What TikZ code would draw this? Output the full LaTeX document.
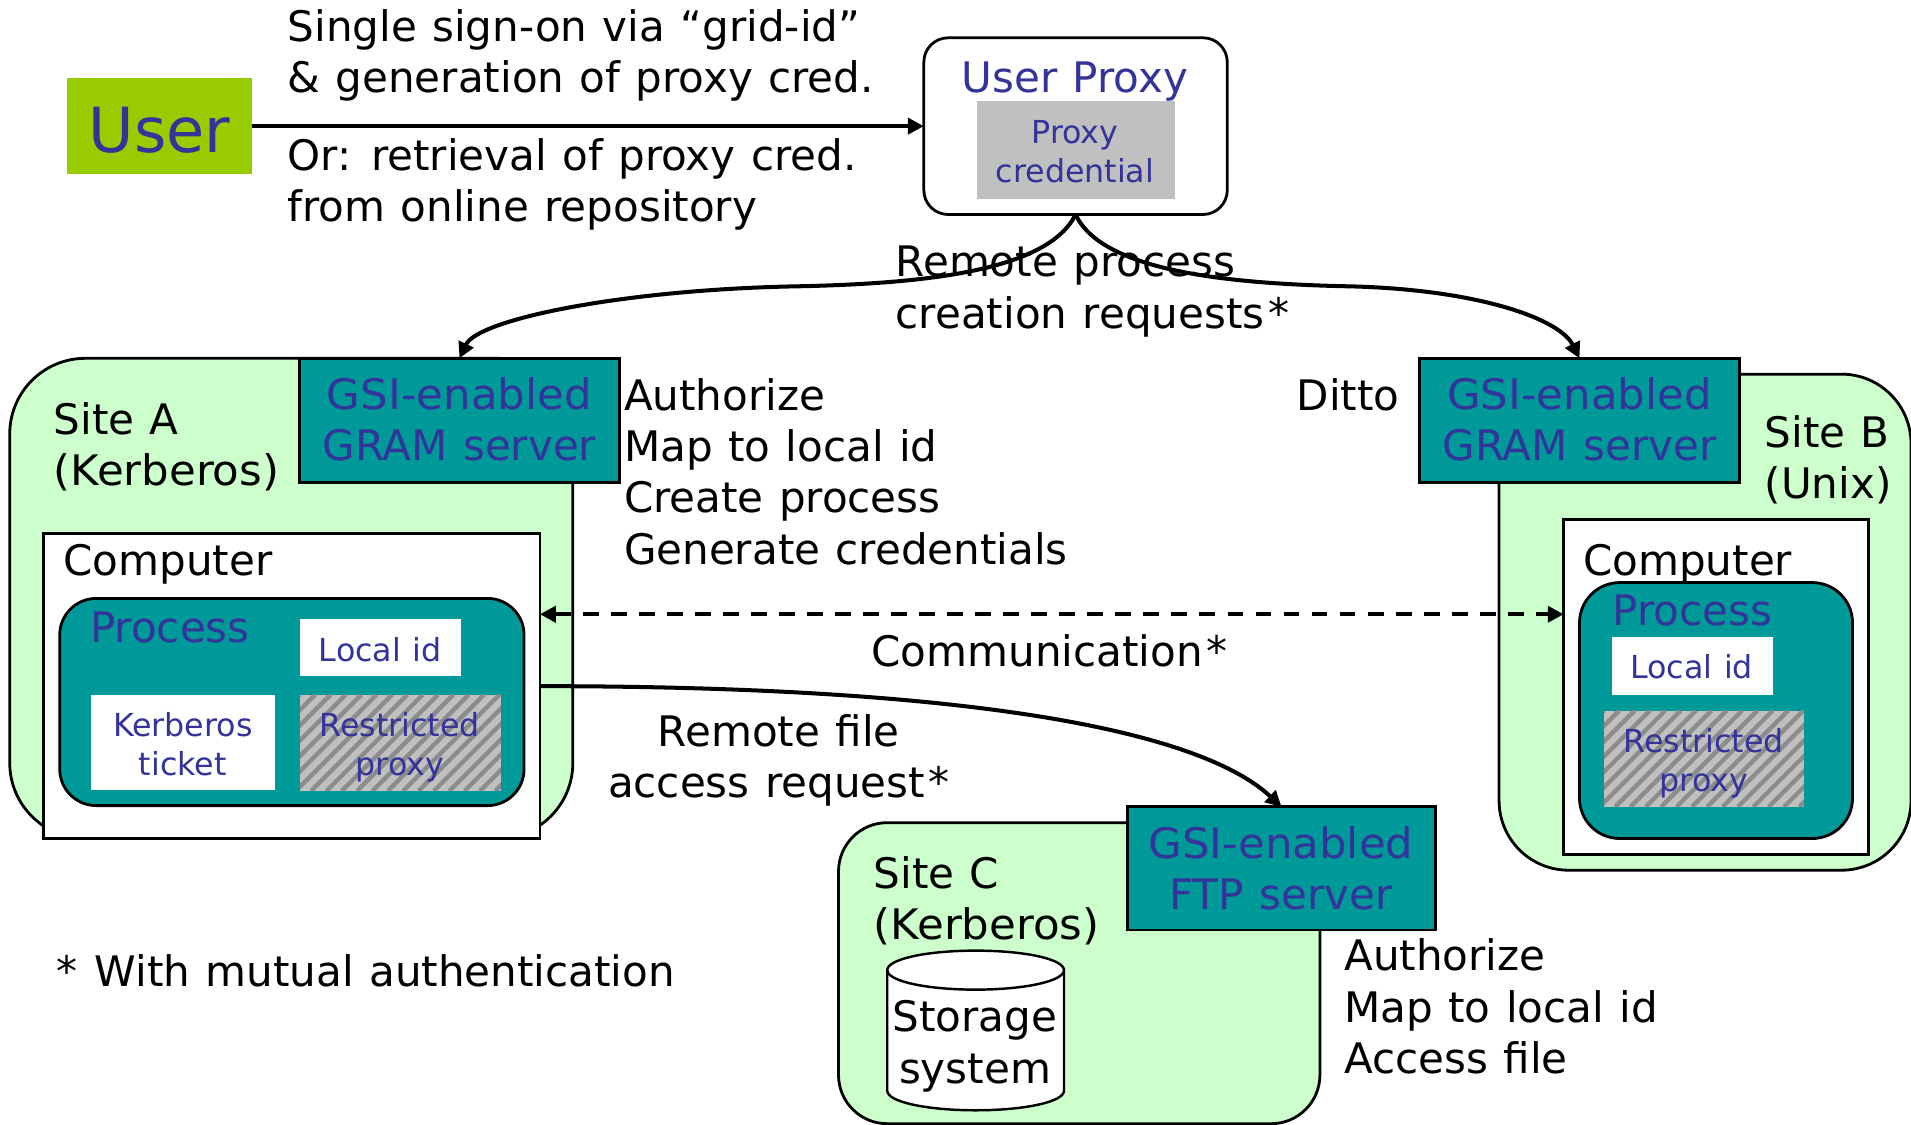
\documentclass[tikz,border=0pt]{standalone}
\usepackage{fontspec}
\setmainfont[WordSpace=1.15]{DejaVu Sans}
\newfontfamily\widefont[FakeStretch=1.035,WordSpace=1.15]{DejaVu Sans}
\usetikzlibrary{arrows.meta}
\definecolor{sitegreen}{HTML}{CCFFCC}
\definecolor{tealbox}{HTML}{009999}
\definecolor{inkblue}{HTML}{333399}
\definecolor{usergreen}{HTML}{99CC00}
\definecolor{credgrey}{HTML}{C0C0C0}
\definecolor{stripegrey}{HTML}{8C8C8C}
\newcommand{\stripes}[4]{%
  \begin{scope}
    \clip (#1,#2) rectangle (#3,#4);
    \fill[credgrey] (#1,#2) rectangle (#3,#4);
    \foreach \k in {0,12.6,...,300}
      \draw[stripegrey,line width=3.6pt] ({#1+\k-79},#4) -- ({#1+\k},#2);
  \end{scope}}
\tikzset{
  x=1pt,y=-1pt,
  outer sep=0pt,
  sitebox/.style={draw=black,line width=2.3pt,fill=sitegreen,rounded corners=#1,anchor=north west,inner sep=0pt},
  procbox/.style={draw=black,line width=2.3pt,fill=tealbox,rounded corners=#1,anchor=north west,inner sep=0pt},
  gram/.style={draw=black,line width=2.3pt,fill=tealbox,anchor=north west,inner sep=0pt},
  compbox/.style={draw=black,line width=2.3pt,fill=white,anchor=north west,inner sep=0pt},
  plain/.style={fill=#1,anchor=north west,inner sep=0pt},
  lab/.style={inner sep=0pt,align=left,anchor=north west,text=black,font=\fontsize{34.5}{42}\selectfont,execute at begin node=\strut},
  clab/.style={lab,align=center,anchor=north},
  blab/.style={clab,text=inkblue},
  slab/.style={inner sep=0pt,align=center,anchor=north,text=inkblue,font=\fontsize{26}{32}\selectfont,execute at begin node=\strut},
  conn/.style={draw=black,line width=3.3pt,-{Triangle[length=13pt,width=13pt]}},
  dconn/.style={draw=black,line width=3.3pt,dash pattern=on 13pt off 10pt,{Triangle[length=13pt,width=13pt]}-{Triangle[length=13pt,width=13pt]}},
}
\newcommand{\astk}{\kern3pt*}
\begin{document}
\begin{tikzpicture}
\useasboundingbox (0,0) rectangle (1568,923);
% Sites
\node[sitebox=62pt,minimum width=462pt,minimum height=394pt] (siteA) at (8,294) {};
\node[sitebox=57pt,minimum width=338pt,minimum height=407pt] (siteB) at (1230,307) {};
\node[sitebox=40pt,minimum width=395pt,minimum height=247pt] (siteC) at (688,675) {};
% User
\node[plain=usergreen,minimum width=152pt,minimum height=79pt] (user) at (55,64) {};
\node[inner sep=0pt,text=inkblue,font=\fontsize{51}{60}\selectfont] (userT) at (131,107) {User};
\node[lab] (t1) at (236,8) {Single sign-on via “grid-id”\\\& generation of proxy cred.};
\node[lab] (t2) at (236,113.4) {Or: retrieval of proxy cred.\\from online repository};
% User proxy
\node[draw=black,line width=2.3pt,fill=white,rounded corners=20pt,anchor=north west,inner sep=0pt,minimum width=249pt,minimum height=145pt] (proxy) at (758,31) {};
\node[blab] (proxyT) at (882,46.6) {User Proxy};
\node[plain=credgrey,minimum width=162pt,minimum height=80pt] (cred) at (802,83) {};
\node[slab] (credT) at (882,98.6) {Proxy\\credential};
% Site A
\node[lab] (siteAT) at (44,330) {Site A\\{\widefont(Kerberos)}};
\node[compbox,minimum width=407pt,minimum height=250pt] (compA) at (36,438) {};
\node[lab] (compAT) at (52,442.6) {Computer};
\node[procbox=30pt,minimum width=381pt,minimum height=170pt] (procA) at (49,491) {};
\node[blab,anchor=north west] (procAT) at (74,497.6) {Process};
\node[plain=white,minimum width=132pt,minimum height=47pt] (lidA) at (246,508) {};
\node[slab] (lidAT) at (312,520.6) {Local id};
\node[plain=white,minimum width=151pt,minimum height=78pt] (kerb) at (75,570) {};
\node[slab] (kerbT) at (150,584.6) {Kerberos\\ticket};
\stripes{246}{570}{411}{649}
\node[inner sep=0pt,anchor=north west,minimum width=165pt,minimum height=79pt] (rpA) at (246,570) {};
\node[slab] (rpAT) at (328,584.6) {Restricted\\proxy};
\node[gram,minimum width=262pt,minimum height=102pt] (gramA) at (246,294) {};
\node[blab] (gramAT) at (377,310) {{\widefont GSI-enabled}\\GRAM server};
\node[lab] (authA) at (512,310.6) {Authorize\\Map to local id\\Create process\\Generate credentials};
% Site B
\node[lab] (siteBT) at (1448,341.1) {Site B\\(Unix)};
\node[compbox,minimum width=250pt,minimum height=275pt] (compB) at (1283,426) {};
\node[lab] (compBT) at (1299,442.6) {Computer};
\node[procbox=33pt,minimum width=224pt,minimum height=210pt] (procB) at (1296,478) {};
\node[blab,anchor=north west] (procBT) at (1323,483.6) {Process};
\node[plain=white,minimum width=132pt,minimum height=47pt] (lidB) at (1323,523) {};
\node[slab] (lidBT) at (1388,534.6) {Local id};
\stripes{1316}{583}{1480}{662}
\node[inner sep=0pt,anchor=north west,minimum width=164pt,minimum height=79pt] (rpB) at (1316,583) {};
\node[slab] (rpBT) at (1398,597.6) {Restricted\\proxy};
\node[gram,minimum width=262pt,minimum height=102pt] (gramB) at (1165,294) {};
\node[blab] (gramBT) at (1296,310) {{\widefont GSI-enabled}\\GRAM server};
\node[lab] (ditto) at (1064,307.6) {Ditto};
% Site C
\node[lab] (siteCT) at (717,703) {Site C\\{\widefont(Kerberos)}};
\node[draw=none,inner sep=0pt,minimum width=145pt,minimum height=131pt] (store) at (800.5,845.5) {};
\draw[draw=black,line width=2pt,fill=white] (728,796) -- (728,895) .. controls (728,904) and (760,911) .. (800.5,911) .. controls (841,911) and (873,904) .. (873,895) -- (873,796) .. controls (873,787) and (841,780) .. (800.5,780) .. controls (760,780) and (728,787) .. (728,796) -- cycle;
\draw[draw=black,line width=2pt] (728,796) .. controls (728,805) and (760,812) .. (800.5,812) .. controls (841,812) and (873,805) .. (873,796);
\node[clab] (storeT) at (800,821) {Storage\\system};
\node[gram,minimum width=253pt,minimum height=101pt] (ftp) at (925,662) {};
\node[blab] (ftpT) at (1051,678) {{\widefont GSI-enabled}\\FTP server};
\node[lab] (authC) at (1103,770.4) {Authorize\\Map to local id\\Access file};
% Other labels
\node[lab] (remote) at (735,202) {Remote process\\creation requests\astk};
\node[lab] (comm) at (715,517.6) {Communication\astk};
\node[clab] (rfile) at (639,586.1) {Remote file\\access request\astk};
\node[lab] (note) at (46,780.4) {*\kern2pt{} With mutual authentication};
% Connectors
\coordinate (mL) at (650,235);
\coordinate (mR) at (1110,235);
\coordinate (compAr) at (compA.east |- 0,563);
\draw[conn] (user.east) -- (proxy.west);
\draw[conn] (proxy.south) .. controls (860,222) and (760,233) .. (mL) .. controls (510,238) and (392,262) .. (gramA.north);
\draw[conn] (proxy.south) .. controls (904,222) and (1005,233) .. (mR) .. controls (1215,238) and (1280,262) .. (gramB.north);
\draw[dconn] (compA.east |- 0,504) -- (compB.west |- 0,504);
\draw[conn] (compAr) .. controls (800,563) and (985,600) .. (ftp.north);
\end{tikzpicture}
\end{document}
